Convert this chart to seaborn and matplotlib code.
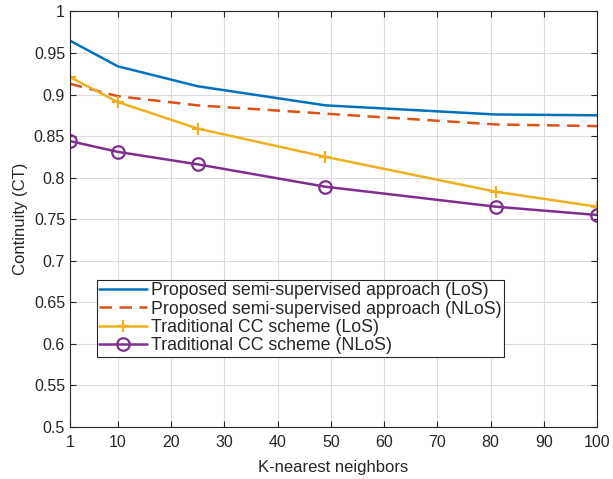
import numpy as np
import pandas as pd
import matplotlib
matplotlib.use("Agg")
import matplotlib.pyplot as plt
import seaborn as sns

# values
k_neighbors = [1, 10, 25, 49, 81, 100]
proposed_los = [0.965, 0.934, 0.910, 0.887, 0.876, 0.875]
proposed_nlos = [0.913, 0.898, 0.887, 0.877, 0.864, 0.862]
traditional_los = [0.921, 0.891, 0.859, 0.825, 0.783, 0.765]
traditional_nlos = [0.844, 0.831, 0.816, 0.789, 0.765, 0.755]

labels = ["Proposed semi-supervised approach (LoS)",
          "Proposed semi-supervised approach (NLoS)",
          "Traditional CC scheme (LoS)",
          "Traditional CC scheme (NLoS)"]

sns.set_theme(style="ticks")
plt.rcParams['font.family'] = ['Liberation Sans', 'DejaVu Sans']

fig = plt.figure(figsize=(6.13, 4.79), dpi=100)
ax = fig.add_axes([0.114, 0.109, 0.860, 0.867])

series = [
    (proposed_los, "#0072BD", "-", None),
    (proposed_nlos, "#D95319", (0, (5, 3)), None),
    (traditional_los, "#EDB120", "-", "+"),
    (traditional_nlos, "#7E2F8E", "-", "o"),
]
for (vals, col, ls, mk), lab in zip(series, labels):
    df = pd.DataFrame({"k": k_neighbors, "ct": vals})
    sns.lineplot(data=df, x="k", y="ct", ax=ax, color=col, linestyle=ls,
                 linewidth=1.8, marker=mk, markersize=9,
                 markerfacecolor="none", markeredgecolor=col, markeredgewidth=1.6,
                 label=lab)

ax.set_xlim(1, 100)
ax.set_ylim(0.5, 1.0)
ax.set_xticks([1, 10, 20, 30, 40, 50, 60, 70, 80, 90, 100])
ax.set_xticklabels(["1", "10", "20", "30", "40", "50", "60", "70", "80", "90", "100"])
yt = np.arange(0.5, 1.0001, 0.05)
ax.set_yticks(yt)
ax.set_yticklabels(["0.5", "0.55", "0.6", "0.65", "0.7", "0.75", "0.8", "0.85", "0.9", "0.95", "1"])
ax.grid(True, color="#dcdcdc", linewidth=0.8)
ax.tick_params(direction="in", length=4, width=0.8, labelsize=11.5, colors="#262626",
               top=True, right=True, labeltop=False, labelright=False)
ax.tick_params(axis="x", pad=6)
for s in ax.spines.values():
    s.set_color("#262626")
    s.set_linewidth(0.8)
ax.set_xlabel("K-nearest neighbors", fontsize=12, color="#262626", labelpad=7)
ax.set_ylabel("Continuity (CT)", fontsize=12, color="#262626")

leg = ax.legend(loc="lower left", bbox_to_anchor=(0.051, 0.169), fontsize=12.8,
                frameon=True, fancybox=False, edgecolor="#262626", framealpha=1,
                handlelength=2.7, borderpad=0.12, labelspacing=0.08, handletextpad=0.25,
                borderaxespad=0)
leg.get_frame().set_linewidth(0.8)

fig.savefig("out.png", dpi=100)
